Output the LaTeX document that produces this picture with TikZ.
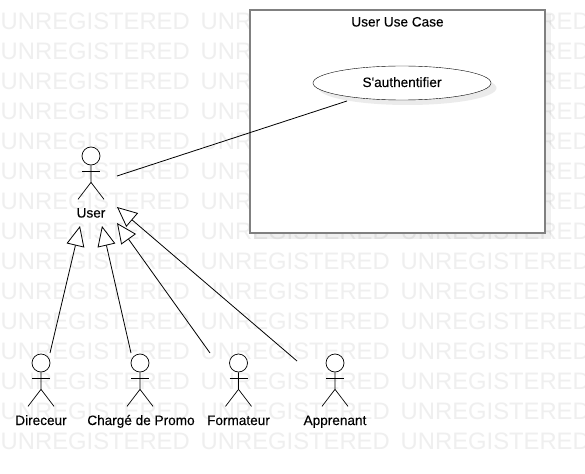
\documentclass[tikz,border=0pt]{standalone}
\usepackage{fontspec}
\setmainfont{Liberation Sans}
\newfontfamily\labelfont{Liberation Sans}[FakeBold=0.25]
\usetikzlibrary{arrows.meta,positioning,calc,shapes.geometric}
\definecolor{markgray}{HTML}{EFEFEF}
\definecolor{boxgray}{HTML}{808080}
\tikzset{
  watermark/.style={anchor=west, inner sep=0pt, text=markgray, font=\fontsize{23.8}{26}\selectfont},
  systembox/.style={draw=boxgray, line width=2pt, fill=white, minimum width=295, minimum height=223, inner sep=0pt},
  boxshadow/.style={fill=black, fill opacity=0.06, minimum width=297, minimum height=225, inner sep=0pt},
  usecase/.style={ellipse, draw=black, fill=white, minimum width=178, minimum height=34, inner sep=0pt},
  caseshadow/.style={ellipse, fill=black, fill opacity=0.08, minimum width=178, minimum height=34, inner sep=0pt},
  textlabel/.style={anchor=base, inner sep=0pt, font=\labelfont\fontsize{13.6}{15}\selectfont},
  head/.style={circle, draw=black, fill=white, line width=0.7pt, minimum size=18, inner sep=0pt},
  limb/.style={line width=0.7pt},
  link/.style={line width=0.8pt},
  inherit/.style={line width=0.8pt, -{Triangle[open, length=20, width=18, fill=white]}}
}
% #1 name, #2 x, #3 y of the head centre
\newcommand{\actor}[3]{
  \node[head] (#1) at (#2,#3) {};
  \draw[limb] (#1.south) -- ++(0,17) coordinate (#1hip) -- ++(-13,17);
  \draw[limb] (#1hip) -- ++(13,17);
  \draw[limb] ($(#1.south)+(-9,6)$) -- ++(18,0);
}
\begin{document}
\begin{tikzpicture}[x=1pt,y=-1pt]
  \useasboundingbox (0,0) rectangle (585,473);
  \fill[white] (0,0) rectangle (585,473);
  % background marks
  \begin{scope}
    \clip (0,0) rectangle (585,473);
    \foreach \row in {0,...,14}
      \foreach \col in {0,1,2}
        \node[watermark] (mark\row\col) at (200*\col+0.5,21.5+30*\row) {UNREGISTERED};
  \end{scope}
  % use case box
  \node[boxshadow] (boxback) at (402.5,126.5) {};
  \node[systembox] (box) at (397.5,121.5) {};
  \node[textlabel] (boxtitle) at (397.5,26.5) {User Use Case};
  \node[caseshadow] (caseback) at (407.5,88) {};
  \node[usecase] (auth) at (402,83) {};
  \node[textlabel] (authlabel) at (402,87) {S'authentifier};
  % actors
  \actor{user}{91}{156}
  \actor{dir}{41}{363}
  \actor{charge}{140}{363}
  \actor{form}{238.5}{363}
  \actor{appr}{335}{363}
  \node[textlabel] (userlabel) at (91,217.5) {User};
  \node[textlabel] (dirlabel) at (41,425) {Direceur};
  \node[textlabel] (chargelabel) at (141,425) {Chargé de Promo};
  \node[textlabel] (formlabel) at (238.5,425) {Formateur};
  \node[textlabel] (apprlabel) at (335,425) {Apprenant};
  % free ends of the connectors
  \coordinate (userright) at (117,176);
  \coordinate (authfoot) at (347,101);
  \coordinate (tipa) at (80,226);
  \coordinate (tipb) at (102,226);
  \coordinate (tipc) at (117,223);
  \coordinate (tipd) at (117,207);
  \coordinate (dirtop) at (50,353);
  \coordinate (chargetop) at (131,353);
  \coordinate (formtop) at (210,353);
  \coordinate (apprtop) at (297,361);
  \draw[link] (userright) -- (authfoot);
  \draw[inherit] (dirtop) -- (tipa);
  \draw[inherit] (chargetop) -- (tipb);
  \draw[inherit] (formtop) -- (tipc);
  \draw[inherit] (apprtop) -- (tipd);
\end{tikzpicture}
\end{document}
